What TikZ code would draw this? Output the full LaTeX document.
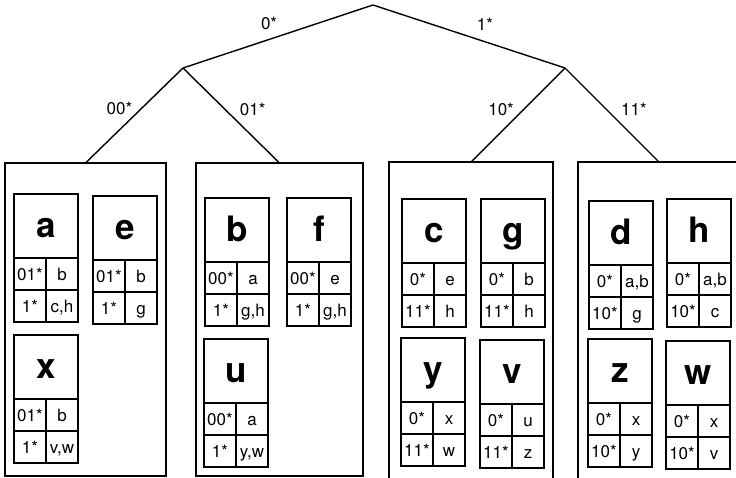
\documentclass[tikz,border=0pt]{standalone}
\usepackage{fontspec}
\setmainfont{TeX Gyre Heros}
\usetikzlibrary{positioning}

% one peer record: name box with a 2x2 routing table under it
\newcommand{\peernode}[7]{%
  \node[name box, anchor=north west] (p#1) at (#2) {#1};
  \node[cell box, anchor=north west] (p#1-1) at (p#1.south west) {#3};
  \node[cell box, anchor=north east] (p#1-2) at (p#1.south east) {#4};
  \node[cell box, anchor=north west] (p#1-3) at (p#1-1.south west) {#5};
  \node[cell box, anchor=north west] (p#1-4) at (p#1-2.south west) {#6};
}

\begin{document}
\begin{tikzpicture}[x=1pt, y=-1pt,
    edge/.style={line width=1.4pt},
    lbl/.style={inner sep=0pt, font=\fontsize{17}{17}\selectfont,
        text height=12pt, text depth=0pt},
    leaf box/.style={draw, line width=1.2pt, inner sep=0pt, outer sep=0pt},
    name box/.style={draw, line width=1.4pt, inner sep=0pt, outer sep=0pt,
        minimum width=64pt, minimum height=64pt,
        font=\fontsize{35}{35}\selectfont\bfseries,
        text height=22pt, text depth=0pt},
    cell box/.style={draw, line width=1.4pt, inner sep=0pt, outer sep=0pt,
        minimum width=32pt, minimum height=32pt,
        font=\fontsize{17}{17}\selectfont,
        text height=12pt, text depth=0pt}
]
    \useasboundingbox (0,0) rectangle (736,477);
    \clip (0,0) rectangle (736,477);

    % trie
    \coordinate (r) at (373,5);
    \coordinate (n0) at (183,68);
    \coordinate (n1) at (565,68);

    \node[leaf box, minimum width=161pt, minimum height=313pt, anchor=north] (b1) at (85.5,163) {};
    \node[leaf box, minimum width=167pt, minimum height=313pt, anchor=north] (b2) at (279.5,163) {};
    \node[leaf box, minimum width=164pt, minimum height=330pt, anchor=north] (b3) at (471,162) {};
    \node[leaf box, minimum width=162pt, minimum height=330pt, anchor=north] (b4) at (659,162) {};

    \draw[edge] (r) -- node[lbl, pos=0.547, above=9.5pt] {0*} (n0);
    \draw[edge] (r) -- node[lbl, pos=0.583, above=10.7pt] {1*} (n1);
    \draw[edge] (n0) -- node[lbl, pos=0.428, left=8.4pt] {00*} (b1.north);
    \draw[edge] (n0) -- node[lbl, pos=0.437, right=14pt] {01*} (b2.north);
    \draw[edge] (n1) -- node[lbl, pos=0.441, left=9pt] {10*} (b3.north);
    \draw[edge] (n1) -- node[lbl, pos=0.441, right=14pt] {11*} (b4.north);

    % peers
    \peernode{a}{14,194}{01*}{b}{1*}{c,h}{}
    \peernode{e}{93,196}{01*}{b}{1*}{g}{}
    \peernode{x}{14,335}{01*}{b}{1*}{v,w}{}

    \peernode{b}{205,198}{00*}{a}{1*}{g,h}{}
    \peernode{f}{287,198}{00*}{e}{1*}{g,h}{}
    \peernode{u}{204,339}{00*}{a}{1*}{y,w}{}

    \peernode{c}{402,199}{0*}{e}{11*}{h}{}
    \peernode{g}{481,199}{0*}{b}{11*}{h}{}
    \peernode{y}{401,338}{0*}{x}{11*}{w}{}
    \peernode{v}{480,340}{0*}{u}{11*}{z}{}

    \peernode{d}{589,201}{0*}{a,b}{10*}{g}{}
    \peernode{h}{667,199}{0*}{a,b}{10*}{c}{}
    \peernode{z}{588,339}{0*}{x}{10*}{y}{}
    \peernode{w}{666,341}{0*}{x}{10*}{v}{}
\end{tikzpicture}
\end{document}
